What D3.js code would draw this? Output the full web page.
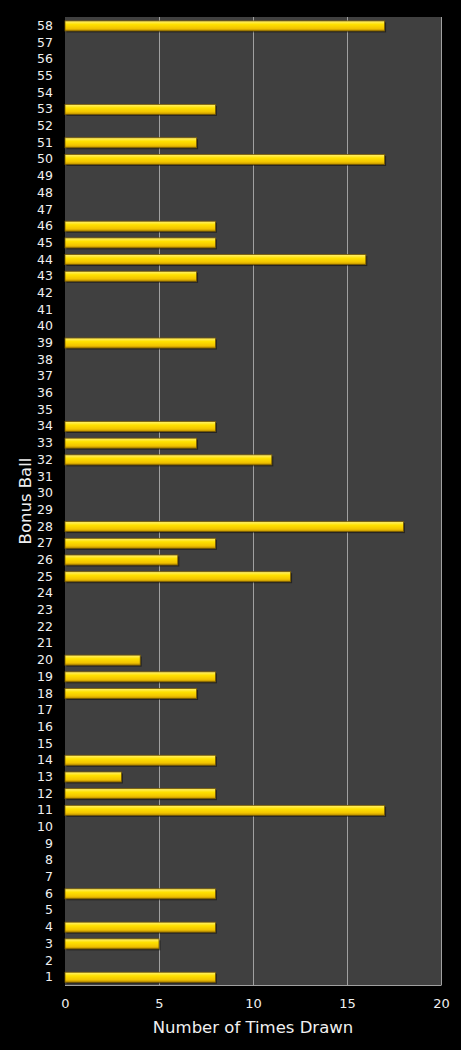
<!DOCTYPE html>
<html>
<head>
<meta charset="utf-8">
<script src="https://cdn.jsdelivr.net/npm/d3@7"></script>
<style>
html,body{margin:0;padding:0;background:#000;}
svg{display:block;}
</style>
</head>
<body>
<svg id="chart" width="461" height="1050"></svg>
<script>
const balls = d3.range(1, 59);
const drawnBalls = [1, 3, 4, 6, 11, 12, 13, 14, 18, 19, 20, 25, 26, 27, 28, 32, 33, 34, 39, 43, 44, 45, 46, 50, 51, 53, 58];
const drawnCounts = [8, 5, 8, 8, 17, 8, 3, 8, 7, 8, 4, 12, 6, 8, 18, 11, 7, 8, 8, 7, 16, 8, 8, 17, 7, 8, 17];
const xTicks = [0, 5, 10, 15, 20];
const xTitle = "Number of Times Drawn";
const yTitle = "Bonus Ball";

(function () {
const countMap = new Map(drawnBalls.map((b, i) => [b, drawnCounts[i]]));
const data = balls.map(b => ({ball: b, count: countMap.get(b) || 0}));

const svg = d3.select("#chart");
const pL = 65, pR = 441, pT = 17, pB = 985;

const x = d3.scaleLinear().domain([0, 20]).range([pL, pR]);
const y = d3.scaleBand().domain(balls.slice().reverse().map(String)).range([pT + 0.6, pB + 0.6]).paddingInner(0.4).paddingOuter(0.2);

const defs = svg.append("defs");
const grad = defs.append("linearGradient").attr("id", "barGrad").attr("x1", 0).attr("y1", 0).attr("x2", 0).attr("y2", 1);
grad.append("stop").attr("offset", "0%").attr("stop-color", "#fff27a");
grad.append("stop").attr("offset", "35%").attr("stop-color", "#ffe100");
grad.append("stop").attr("offset", "75%").attr("stop-color", "#f2c400");
grad.append("stop").attr("offset", "100%").attr("stop-color", "#b88c00");

svg.append("rect").attr("x", pL).attr("y", pT).attr("width", pR - pL).attr("height", pB - pT).attr("fill", "#404040");

svg.append("g").selectAll("line").data(xTicks.filter(t => t > 0)).join("line")
  .attr("x1", d => x(d) + 0.5).attr("x2", d => x(d) + 0.5)
  .attr("y1", pT).attr("y2", pB)
  .attr("stroke", "#a0a0a0").attr("stroke-width", 1);
svg.append("line").attr("x1", pL).attr("x2", pR + 0.5).attr("y1", pB + 0.5).attr("y2", pB + 0.5)
  .attr("stroke", "#a0a0a0").attr("stroke-width", 1);

const bars = svg.append("g");
const drawn = data.filter(d => d.count > 0);
bars.selectAll("rect.shadow").data(drawn).join("rect").attr("class", "shadow")
  .attr("x", x(0) + 1.5).attr("y", d => y(String(d.ball)) + 1.5)
  .attr("width", d => x(d.count) - x(0)).attr("height", y.bandwidth())
  .attr("fill", "#000").attr("opacity", 0.45);
bars.selectAll("rect.bar").data(drawn).join("rect").attr("class", "bar")
  .attr("x", x(0)).attr("y", d => y(String(d.ball)))
  .attr("width", d => x(d.count) - x(0)).attr("height", y.bandwidth())
  .attr("fill", "url(#barGrad)").attr("stroke", "#7a5c00").attr("stroke-width", 0.8);

const yAxis = svg.append("g").attr("transform", `translate(${pL},0)`)
  .call(d3.axisLeft(y).tickSize(0).tickPadding(12));
yAxis.select(".domain").remove();
yAxis.selectAll("text").attr("fill", "#f0f0f0").attr("font-family", "DejaVu Sans, Verdana, sans-serif").attr("font-size", 12.5);

const xAxis = svg.append("g").attr("transform", `translate(0,${pB})`)
  .call(d3.axisBottom(x).tickValues(xTicks).tickSize(0).tickPadding(14));
xAxis.select(".domain").remove();
xAxis.selectAll("text").attr("fill", "#f0f0f0").attr("font-family", "DejaVu Sans, Verdana, sans-serif").attr("font-size", 13);

svg.append("text").attr("x", (pL + pR) / 2).attr("y", 1033).attr("text-anchor", "middle")
  .attr("fill", "#f0f0f0").attr("font-family", "DejaVu Sans, Verdana, sans-serif").attr("font-size", 16.5).text(xTitle);
svg.append("text").attr("transform", `translate(31,${(pT + pB) / 2}) rotate(-90)`).attr("text-anchor", "middle")
  .attr("fill", "#f0f0f0").attr("font-family", "DejaVu Sans, Verdana, sans-serif").attr("font-size", 16.5).text(yTitle);
})();
</script>
</body>
</html>
